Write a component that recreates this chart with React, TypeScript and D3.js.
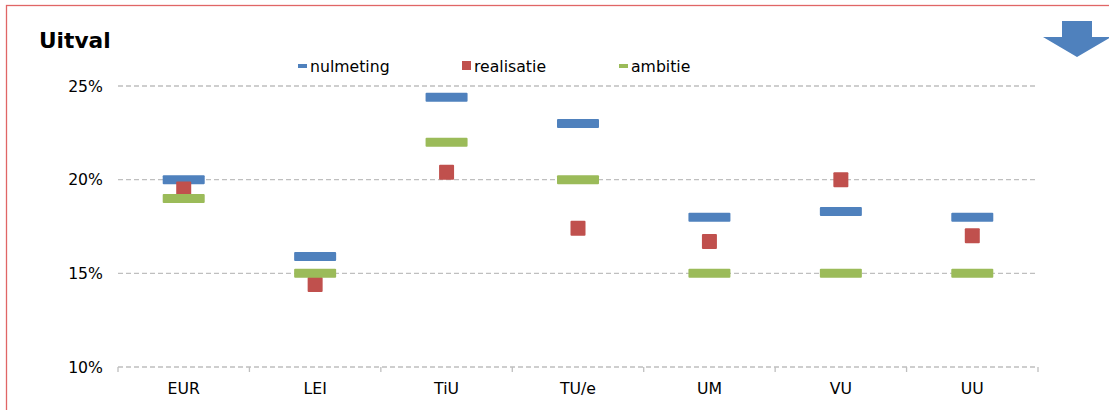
import React from "react";
import * as d3 from "d3";

const categories = ["EUR", "LEI", "TiU", "TU/e", "UM", "VU", "UU"];
const nulmeting = [20.0, 15.9, 24.4, 23.0, 18.0, 18.3, 18.0];
const realisatie = [19.5, 14.4, 20.4, 17.4, 16.7, 20.0, 17.0];
const ambitie = [19.0, 15.0, 22.0, 20.0, 15.0, 15.0, 15.0];
const yTicks = [10, 15, 20, 25];
const legendItems = ["nulmeting", "realisatie", "ambitie"];

const BLUE = "#4F81BD";
const RED = "#C0504D";
const GREEN = "#9BBB59";
const FONT = "'DejaVu Sans', Verdana, sans-serif";

export default function App() {
  const W = 1109;
  const H = 410;
  const x = d3.scaleBand<string>().domain(categories).range([118, 1038]).padding(0);
  const y = d3.scaleLinear().domain([10, 25]).range([367, 86]);
  const cx = (c: string) => (x(c) as number) + x.bandwidth() / 2;
  const barW = 42;
  const barH = 9;
  const sq = 15;

  const legendX = [298, 462, 619];
  const legendColors = [BLUE, RED, GREEN];

  const arrow = [
    [1062, 21],
    [1092, 21],
    [1092, 37],
    [1111, 37],
    [1077, 57],
    [1043, 37],
    [1062, 37],
  ];

  return (
    <svg width={W} height={H} style={{ position: "absolute", left: 0, top: 0 }}>
      <rect x={0} y={0} width={W} height={H} fill="#fff" />
      <rect x={6.5} y={5.5} width={W + 10} height={H + 10} fill="none" stroke="#E06666" strokeWidth={1.3} />
      <text x={39} y={48} fontFamily={FONT} fontSize={21.7} fontWeight="bold" fill="#000">
        Uitval
      </text>
      <polygon points={arrow.map((p) => p.join(",")).join(" ")} fill={BLUE} />

      {yTicks.map((t) => (
        <g key={t}>
          <line x1={118} x2={1038} y1={y(t)} y2={y(t)} stroke="#BFBFBF" strokeWidth={1.3} strokeDasharray="5,3" />
          <text x={103} y={y(t) + 5.5} textAnchor="end" fontFamily={FONT} fontSize={15.7} fill="#000">
            {t}%
          </text>
        </g>
      ))}
      {d3.range(categories.length + 1).map((i) => {
        const xx = 118 + i * x.bandwidth();
        return <line key={i} x1={xx} x2={xx} y1={y(10)} y2={y(10) + 5} stroke="#BFBFBF" strokeWidth={1.3} />;
      })}
      {categories.map((c) => (
        <text key={c} x={cx(c)} y={394} textAnchor="middle" fontFamily={FONT} fontSize={15.7} fill="#000">
          {c}
        </text>
      ))}

      {categories.map((c, i) => (
        <rect key={"n" + c} x={cx(c) - barW / 2} y={y(nulmeting[i]) - barH / 2} width={barW} height={barH} rx={1} fill={BLUE} />
      ))}
      {categories.map((c, i) => (
        <rect key={"r" + c} x={cx(c) - sq / 2} y={y(realisatie[i]) - sq / 2} width={sq} height={sq} rx={1} fill={RED} />
      ))}
      {categories.map((c, i) => (
        <rect key={"a" + c} x={cx(c) - barW / 2} y={y(ambitie[i]) - barH / 2} width={barW} height={barH} rx={1} fill={GREEN} />
      ))}

      {legendItems.map((name, i) => (
        <g key={name}>
          {i === 1 ? (
            <rect x={legendX[i]} y={61} width={9} height={9} fill={legendColors[i]} />
          ) : (
            <rect x={legendX[i]} y={64} width={9} height={4} fill={legendColors[i]} />
          )}
          <text x={legendX[i] + 12} y={72} fontFamily={FONT} fontSize={15.7} fill="#000">
            {name}
          </text>
        </g>
      ))}
    </svg>
  );
}
